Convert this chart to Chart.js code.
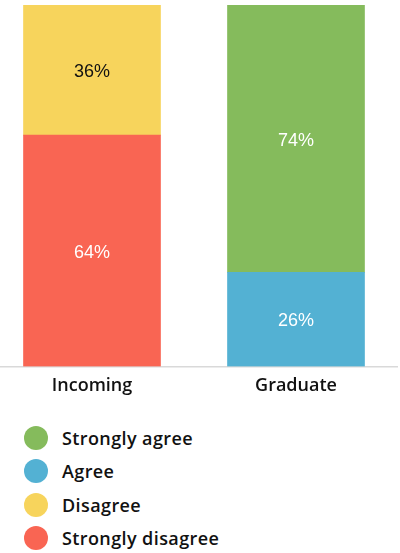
<!DOCTYPE html>
<html>
<head>
<meta charset="utf-8">
<script src="https://cdn.jsdelivr.net/npm/chart.js@4/dist/chart.umd.min.js"></script>
<style>
  body { margin: 0; background: #fff; overflow: hidden; width: 400px; height: 553px; position: relative; }
  #wrap { position: absolute; left: -10px; top: 0; width: 408px; height: 410px; }
  #legend { position: absolute; left: 24px; top: 421px; margin: 0; padding: 0; list-style: none;
    font-family: "Open Sans", sans-serif; font-weight: 600; font-size: 18px; letter-spacing: 0.4px; color: #111; }
  #legend li { height: 33.5px; display: flex; align-items: center; }
  #legend span.dot { width: 24px; height: 24px; border-radius: 50%; margin-right: 14px; display: inline-block; }
</style>
</head>
<body>
<div id="wrap"><canvas id="chart"></canvas></div>
<ul id="legend"></ul>
<script>
const categories = ["Incoming", "Graduate"];
const stronglyDisagree = [64, null];
const disagree = [36, null];
const agree = [null, 26];
const stronglyAgree = [null, 74];

const colors = {
  stronglyAgree: "#85bb5c",
  agree: "#53b1d3",
  disagree: "#f7d45c",
  stronglyDisagree: "#f96553",
};

const datasets = [
  { label: "Strongly disagree", data: stronglyDisagree, backgroundColor: colors.stronglyDisagree, labelColor: "#fff" },
  { label: "Disagree", data: disagree, backgroundColor: colors.disagree, labelColor: "#111" },
  { label: "Agree", data: agree, backgroundColor: colors.agree, labelColor: "#fff" },
  { label: "Strongly agree", data: stronglyAgree, backgroundColor: colors.stronglyAgree, labelColor: "#fff" },
];

// percent labels in the middle of each segment
const valueLabels = {
  id: "valueLabels",
  afterDatasetsDraw(chart) {
    const ctx = chart.ctx;
    ctx.save();
    ctx.font = "18px 'Liberation Sans', Arial, sans-serif";
    ctx.textAlign = "center";
    ctx.textBaseline = "middle";
    chart.data.datasets.forEach((ds, i) => {
      chart.getDatasetMeta(i).data.forEach((bar, j) => {
        if (!ds.data[j]) return;
        const p = bar.getProps(["x", "y", "base"], true);
        ctx.fillStyle = ds.labelColor;
        ctx.fillText(ds.data[j] + "%", p.x, (p.y + p.base) / 2 + 2);
      });
    });
    ctx.restore();
  },
};

new Chart(document.getElementById("chart"), {
  type: "bar",
  data: { labels: categories, datasets: datasets },
  plugins: [valueLabels],
  options: {
    responsive: true,
    maintainAspectRatio: false,
    animation: false,
    barThickness: 137,
    layout: { padding: { top: 5, bottom: 4 } },
    plugins: { legend: { display: false }, tooltip: { enabled: false } },
    scales: {
      x: {
        stacked: true,
        grid: { display: false, drawTicks: false },
        border: { display: true, color: "#d9d9d9", width: 1.5 },
        ticks: { color: "#111", padding: 9, font: { family: "'Open Sans', sans-serif", size: 18, weight: 600 } },
      },
      y: { stacked: true, display: false, min: 0, max: 100 },
    },
  },
});

const legend = document.getElementById("legend");
[...datasets].reverse().forEach((ds) => {
  const li = document.createElement("li");
  li.innerHTML = `<span class="dot" style="background:${ds.backgroundColor}"></span>${ds.label}`;
  legend.appendChild(li);
});
</script>
</body>
</html>
